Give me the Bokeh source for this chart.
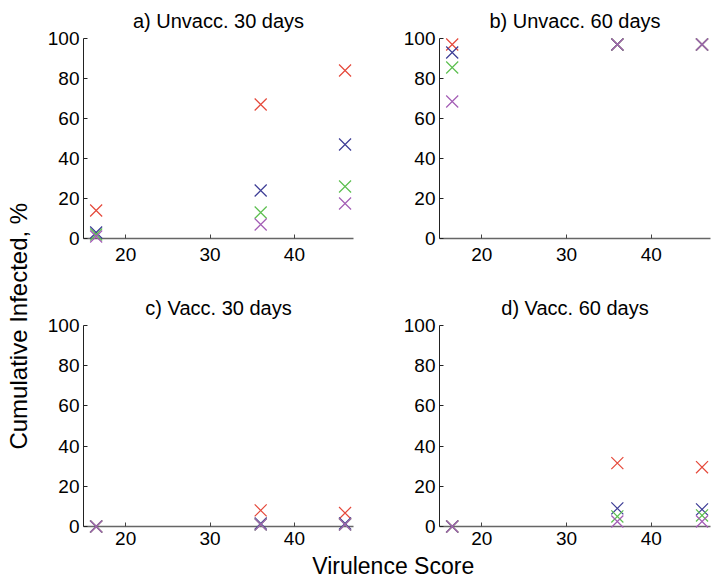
import numpy as np
from bokeh.plotting import figure
from bokeh.layouts import row, column
from bokeh.models import Range1d, FixedTicker
from bokeh.core.properties import value
from bokeh.embed import file_html
from bokeh.resources import INLINE

# ---------------- data ----------------
virulence = [16.5, 36, 46]
x_ticks = [20, 30, 40]
y_ticks = [0, 20, 40, 60, 80, 100]
panel_titles = ["a) Unvacc. 30 days", "b) Unvacc. 60 days",
                "c) Vacc. 30 days", "d) Vacc. 60 days"]
x_label = "Virulence Score"
y_label = "Cumulative Infected, %"

# a) Unvaccinated, 30 days
a_red = [14, 67, 84]
a_blue = [3, 24, 47]
a_green = [2, 13, 26]
a_purple = [1, 7, 17.5]
# b) Unvaccinated, 60 days
b_red = [97, 97, 97]
b_blue = [93, 97, 97]
b_green = [85.5, 97, 97]
b_purple = [68.5, 97, 97]
# c) Vaccinated, 30 days
c_red = [0, 8, 6.7]
c_blue = [0, 1.5, 1.5]
c_green = [0, 1, 1]
c_purple = [0, 1, 1]
# d) Vaccinated, 60 days
d_red = [0, 31.5, 29.5]
d_blue = [0, 9, 8.5]
d_green = [0, 5, 5.5]
d_purple = [0, 2.5, 2.5]

colors = ["#e5483a", "#3d3d96", "#5cbf4f", "#a35db5"]
FONT = "Liberation Sans"


def make_panel(title, series, width, height, bl, br, bt, bb, x_standoff):
    p = figure(width=width, height=height,
               x_range=Range1d(15, 47), y_range=Range1d(0, 100),
               output_backend="svg", toolbar_location=None,
               min_border_left=bl, min_border_right=br,
               min_border_top=bt, min_border_bottom=bb)
    p.title.text = title
    p.title.align = "center"
    p.title.text_font = FONT
    p.title.text_font_size = "20px"
    p.title.text_font_style = "normal"
    p.title.text_color = "#000000"
    p.title.standoff = 14
    p.xgrid.visible = False
    p.ygrid.visible = False
    p.outline_line_color = None
    p.background_fill_color = "white"
    p.border_fill_color = "white"
    for ax, ticks in ((p.xaxis, x_ticks), (p.yaxis, y_ticks)):
        ax.ticker = FixedTicker(ticks=ticks)
        ax.major_tick_in = 4
        ax.major_tick_out = 0
        ax.minor_tick_line_color = None
        ax.major_label_text_font = FONT
        ax.major_label_text_font_size = "19px"
        ax.major_label_text_color = "#000000"
    p.yaxis.major_label_standoff = 4
    p.xaxis.major_label_standoff = x_standoff
    p.yaxis.axis_line_color = "#222222"
    p.yaxis.major_tick_line_color = "#222222"
    p.xaxis.axis_line_color = "#666666"
    p.xaxis.axis_line_width = 1.5
    p.xaxis.major_tick_line_color = "#444444"
    for ys, c in zip(series, colors):
        r = p.scatter(virulence, ys, marker="x", size=17,
                      line_color=c, line_width=1.2)
        r.level = "overlay"
    return p


pa = make_panel(panel_titles[0], [a_red, a_blue, a_green, a_purple], 327, 278, 47, 10, 38, 40, 9)
pb = make_panel(panel_titles[1], [b_red, b_blue, b_green, b_purple], 351, 278, 76, 4, 38, 40, 9)
pc = make_panel(panel_titles[2], [c_red, c_blue, c_green, c_purple], 327, 274, 47, 10, 47, 26, 5)
pd = make_panel(panel_titles[3], [d_red, d_blue, d_green, d_purple], 351, 274, 76, 4, 47, 26, 5)


def label_fig(width, height):
    f = figure(width=width, height=height, x_range=Range1d(0, 1), y_range=Range1d(0, 1),
               output_backend="svg", toolbar_location=None,
               x_axis_location=None, y_axis_location=None,
               min_border_left=0, min_border_right=0, min_border_top=0, min_border_bottom=0)
    f.xgrid.visible = False
    f.ygrid.visible = False
    f.outline_line_color = None
    return f


ylab = label_fig(36, 552)
ylab.text(x=[0.5], y=[0.41], text=[y_label], angle=np.pi / 2,
          text_align="center", text_baseline="middle",
          text_font=value(FONT), text_font_size="24px", text_color="#000000")

xlab = label_fig(714, 26)
xlab.text(x=[0.55], y=[0.5], text=[x_label],
          text_align="center", text_baseline="middle",
          text_font=value(FONT), text_font_size="23px", text_color="#000000")

layout = column(row(ylab, column(row(pa, pb), row(pc, pd))), xlab)

open("out.html", "w").write(file_html(layout, INLINE))
